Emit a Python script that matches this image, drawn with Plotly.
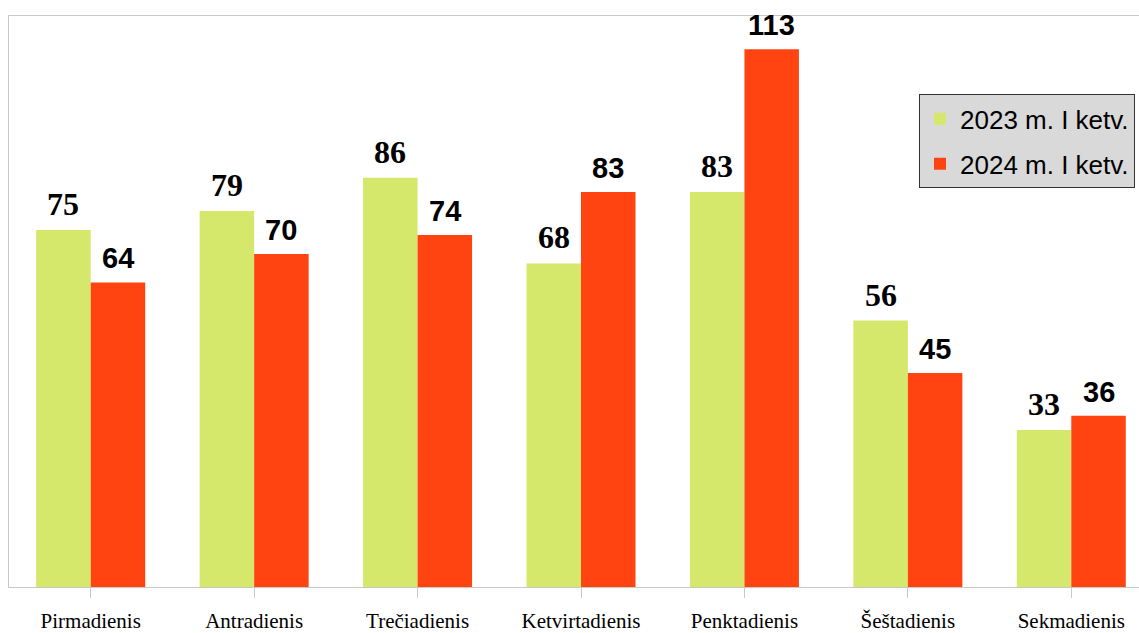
import plotly.graph_objects as go

categories = ["Pirmadienis", "Antradienis", "Trečiadienis", "Ketvirtadienis",
              "Penktadienis", "Šeštadienis", "Sekmadienis"]
values_2023 = [75, 79, 86, 68, 83, 56, 33]
values_2024 = [64, 70, 74, 83, 113, 45, 36]
series_names = ["2023 m. I ketv.", "2024 m. I ketv."]

GREEN = "#d5e86c"
RED = "#ff4411"

fig = go.Figure()
fig.add_trace(go.Bar(x=list(range(len(categories))), y=values_2023, name=series_names[0],
                     marker=dict(color=GREEN, line=dict(width=0)), legendgroup="a"))
fig.add_trace(go.Bar(x=list(range(len(categories))), y=values_2024, name=series_names[1],
                     marker=dict(color=RED, line=dict(width=0)), legendgroup="b"))

annotations = []
for i, (a, b) in enumerate(zip(values_2023, values_2024)):
    annotations.append(dict(x=i - 1/6, y=a, xref="x", yref="y", text=str(a), showarrow=False,
                            yanchor="bottom", yshift=6,
                            font=dict(family="Liberation Serif", size=32, color="black", weight="bold")))
    annotations.append(dict(x=i + 1/6, y=b, xref="x", yref="y", text=str(b), showarrow=False,
                            yanchor="bottom", yshift=6,
                            font=dict(family="Liberation Sans", size=29, color="black", weight="bold")))

fig.update_layout(
    width=1153, height=633,
    margin=dict(l=9, r=0, t=16, b=42),
    paper_bgcolor="white", plot_bgcolor="white",
    barmode="group", bargap=0.333, bargroupgap=0,
    showlegend=True,
    legend=dict(x=(1135 - 9) / 1144, xanchor="right", y=0.8626, yanchor="top",
                bgcolor="#d9d9d9", bordercolor="#333333", borderwidth=1,
                font=dict(family="Liberation Sans", size=26, color="black"),
                traceorder="grouped", tracegroupgap=8),
    annotations=annotations,
    xaxis=dict(tickmode="array", tickvals=list(range(len(categories))), ticktext=categories,
               range=[-0.5, 6.5],
               showline=True, linecolor="#c8c8c8", linewidth=1, mirror=True,
               ticks="outside", ticklen=10, tickcolor="#c8c8c8",
               showgrid=False, zeroline=False,
               tickfont=dict(family="Liberation Serif", size=21, color="black"),
               ticklabelstandoff=5),
    yaxis=dict(range=[0, 120], showgrid=False, zeroline=False, showticklabels=False,
               showline=True, linecolor="#c8c8c8", linewidth=1, ticks=""),
)

fig.update_xaxes(tickson="boundaries")

fig.write_html("out.html", config={"displayModeBar": False},
               post_script="document.body.style.margin='0px';document.body.style.overflow='hidden';")
